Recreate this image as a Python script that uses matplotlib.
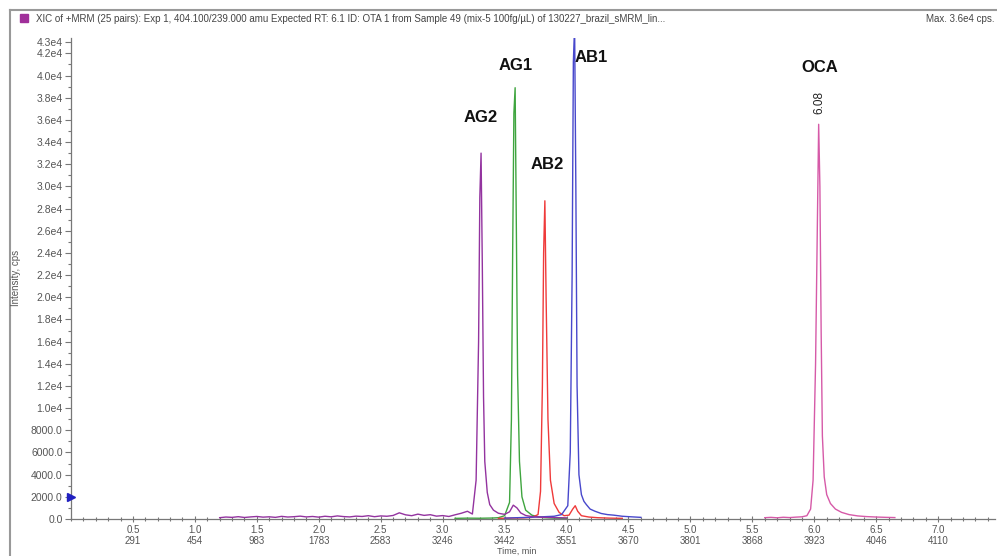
import matplotlib.pyplot as plt
from matplotlib.lines import Line2D
from matplotlib.patches import Rectangle
from matplotlib.ticker import FuncFormatter, MultipleLocator

plt.rcParams['font.family'] = ['Liberation Sans', 'DejaVu Sans']

# AG2 trace (purple), also carries the long baseline
ag2_time = [1.20, 1.25, 1.30, 1.35, 1.40, 1.45, 1.50, 1.55, 1.60, 1.65,
            1.70, 1.75, 1.80, 1.85, 1.90, 1.95, 2.00, 2.05, 2.10, 2.15,
            2.20, 2.25, 2.30, 2.35, 2.40, 2.45, 2.50, 2.55, 2.60, 2.65,
            2.70, 2.75, 2.80, 2.85, 2.90, 2.95, 3.00, 3.05, 3.10, 3.15,
            3.20, 3.24, 3.27, 3.29, 3.30, 3.31, 3.32, 3.33, 3.34, 3.36,
            3.38, 3.41, 3.45, 3.50, 3.54, 3.57, 3.60, 3.63, 3.67, 3.72,
            3.80, 3.90, 4.00]
ag2_int = [120, 180, 150, 210, 140, 190, 230, 170, 200, 150,
           240, 180, 210, 260, 190, 230, 170, 250, 200, 280,
           220, 190, 260, 230, 300, 210, 280, 250, 320, 560,
           380, 300, 440, 330, 390, 260, 310, 230, 380, 520,
           700, 450, 3500, 16000, 29000, 33000, 23000, 11000, 5200, 2400,
           1300, 800, 520, 420, 650, 1250, 1000, 550, 320, 220,
           160, 130, 100]

# AG1 trace (green)
ag1_time = [3.10, 3.20, 3.30, 3.40, 3.45, 3.50, 3.54, 3.555, 3.565, 3.575,
            3.585, 3.595, 3.605, 3.62, 3.64, 3.67, 3.72, 3.77, 3.82, 3.90, 4.00]
ag1_int = [60, 80, 70, 90, 120, 300, 1500, 9000, 24000, 36600,
           38900, 26000, 13000, 5200, 2000, 800, 350, 200, 120, 80, 60]

# AB2 trace (red)
ab2_time = [3.45, 3.55, 3.65, 3.72, 3.77, 3.79, 3.805, 3.815, 3.825, 3.835,
            3.85, 3.87, 3.90, 3.94, 3.98, 4.02, 4.05, 4.07, 4.09, 4.12,
            4.18, 4.25, 4.35, 4.45]
ab2_int = [60, 80, 100, 150, 400, 2500, 12000, 24000, 28700, 20000,
           9000, 3500, 1400, 600, 300, 350, 900, 1200, 700, 300,
           180, 120, 80, 60]

# AB1 trace (blue)
ab1_time = [3.50, 3.60, 3.70, 3.80, 3.90, 3.96, 4.01, 4.03, 4.045, 4.055,
            4.065, 4.075, 4.085, 4.10, 4.12, 4.14, 4.16, 4.19, 4.23, 4.28,
            4.33, 4.38, 4.45, 4.52, 4.60]
ab1_int = [80, 120, 150, 200, 250, 400, 1200, 6000, 22000, 41200,
           44500, 30000, 12000, 4000, 2200, 1600, 1300, 900, 700, 500,
           400, 350, 250, 200, 150]

# OCA trace (pink)
oca_time = [5.60, 5.65, 5.70, 5.75, 5.80, 5.85, 5.90, 5.94, 5.97, 5.99,
            6.01, 6.025, 6.035, 6.045, 6.055, 6.065, 6.08, 6.10, 6.13, 6.17,
            6.22, 6.28, 6.35, 6.42, 6.50, 6.58, 6.65]
oca_int = [120, 150, 110, 160, 130, 170, 200, 300, 900, 3500,
           14000, 27000, 35600, 30000, 17000, 7500, 3800, 2200, 1400, 900,
           600, 400, 280, 220, 180, 150, 130]

# x ticks: time and cycle number
time_ticks = [0.5, 1.0, 1.5, 2.0, 2.5, 3.0, 3.5, 4.0, 4.5, 5.0, 5.5, 6.0, 6.5, 7.0]
cycle_labels = ['291', '454', '983', '1783', '2583', '3246', '3442', '3551',
                '3670', '3801', '3868', '3923', '4046', '4110']

# peak names and where they sit
peak_names = ['AG2', 'AG1', 'AB2', 'AB1', 'OCA']
peak_label_x = [3.31, 3.59, 3.84, 4.20, 6.04]
peak_label_y = [36200, 40900, 32000, 41600, 40700]
oca_rt = 6.08
threshold = 2000

fig = plt.figure(figsize=(9.97, 5.56), dpi=100)
ax = fig.add_axes([0.0712, 0.0665, 0.927, 0.8655])

ax.plot(ag1_time, ag1_int, color='#3fa53f', lw=1.0)
ax.plot(ab2_time, ab2_int, color='#ef3a3a', lw=1.0)
ax.plot(ab1_time, ab1_int, color='#4848cc', lw=1.0)
ax.plot(oca_time, oca_int, color='#d65aa8', lw=1.0)
ax.plot(ag2_time, ag2_int, color='#93339f', lw=1.0)

ax.set_xlim(0, 7.46)
ax.set_ylim(0, 43400)

for spine in ['top', 'right']:
    ax.spines[spine].set_visible(False)
for spine in ['left', 'bottom']:
    ax.spines[spine].set_color('#777777')
    ax.spines[spine].set_linewidth(0.9)

# y axis ticks
yticks = list(range(0, 42001, 2000)) + [43000]
ax.set_yticks(yticks)
ax.yaxis.set_minor_locator(MultipleLocator(1000))
def yfmt(v, pos):
    if v < 10000:
        return '%.1f' % v
    return '%.1fe4' % (v / 1e4)
ax.yaxis.set_major_formatter(FuncFormatter(yfmt))

# x axis ticks
ax.set_xticks(time_ticks)
ax.set_xticklabels(['%.1f\n%s' % (t, c) for t, c in zip(time_ticks, cycle_labels)])
ax.xaxis.set_minor_locator(MultipleLocator(0.1))

ax.tick_params(axis='both', which='both', colors='#777777', labelcolor='#555555',
               labelsize=7.5, width=0.8)
ax.tick_params(axis='y', which='major', direction='out', length=4, pad=2)
ax.tick_params(axis='y', which='minor', direction='out', length=2)
ax.tick_params(axis='x', which='major', direction='inout', length=5, pad=2,
               labelsize=7)
ax.tick_params(axis='x', which='minor', direction='inout', length=3)
for lbl in ax.get_xticklabels():
    lbl.set_linespacing(1.12)

# threshold marker on y axis
ax.plot([0], [threshold], marker='>', color='#2020c0', markersize=6,
        clip_on=False, zorder=5)

# peak labels
for name, lx, ly in zip(peak_names, peak_label_x, peak_label_y):
    ax.text(lx, ly, name, ha='center', va='center', fontsize=12,
            fontweight='bold', color='#111111')
ax.text(peak_label_x[4], 37600, '%.2f' % oca_rt, rotation=90, ha='center',
        va='center', fontsize=8.5, color='#222222')

# axis titles
fig.text(0.016, 0.5, 'Intensity, cps', rotation=90, ha='center', va='center',
         fontsize=7, color='#555555')
fig.text(517 / 997, 0.5 / 556, 'Time, min', ha='center', va='bottom',
         fontsize=6.5, color='#555555')

# window frame and header
fig.add_artist(Line2D([10 / 997, 1], [1 - 10 / 556] * 2, color='#999999', lw=1.5))
fig.add_artist(Line2D([10 / 997] * 2, [0, 1 - 10 / 556], color='#999999', lw=1.5))
fig.add_artist(Rectangle((20 / 997, 1 - 22 / 556), 8 / 997, 8 / 556,
                         color='#a0309a', transform=fig.transFigure))
fig.text(36 / 997, 1 - 19 / 556,
         'XIC of +MRM (25 pairs): Exp 1, 404.100/239.000 amu Expected RT: 6.1 ID: OTA 1 '
         'from Sample 49 (mix-5 100fg/\u00b5L) of 130227_brazil_sMRM_lin...',
         ha='left', va='center', fontsize=7, color='#444444')
fig.text(0.997, 1 - 19 / 556, 'Max. 3.6e4 cps.', ha='right', va='center',
         fontsize=7, color='#444444')

fig.savefig('out.png', dpi=100)
